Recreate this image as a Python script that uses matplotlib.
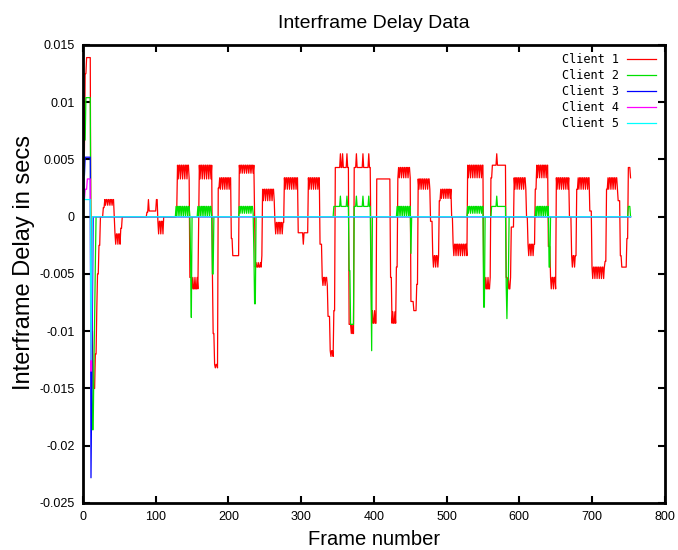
import numpy as np
import matplotlib
matplotlib.use("Agg")
import matplotlib.pyplot as plt

N_FRAMES = 754

# Step segments: (start_frame, level in ms, alternate level in ms or None)
client1_segs = [
    (0, 3.4, None), (2, 5.8, None), (3, 12.5, None), (5, 13.9, None),
    (11, -5.0, None), (12, -10.0, None), (14, -15.0, None), (17, -12.0, None),
    (19, -8.0, None), (20, -5.0, None), (22, -2.5, None), (24, 0.0, None),
    (28, 0.8, None), (30, 1.5, 1.0), (43, 0.0, None), (44, -1.5, -2.4),
    (52, -1.0, None), (54, 0.0, None), (88, 0.4, None), (90, 1.5, None),
    (91, 0.5, None), (101, 1.5, None), (103, -0.4, -1.5), (111, 0.0, None),
    (129, 0.8, None), (130, 4.5, 3.3), (147, -5.3, None), (150, -6.3, -5.3),
    (159, -1.0, None), (160, 4.5, 3.3), (178, -5.0, None), (179, -10.2, None),
    (181, -12.9, -13.2), (186, 2.5, None), (188, 3.4, 2.4), (204, -1.9, None),
    (206, -3.4, None), (215, 4.5, 3.8), (236, 0.0, None), (237, -4.4, -4.0),
    (246, -3.4, None), (247, 2.4, 1.4), (264, -0.5, -1.5), (277, 3.4, 2.4),
    (296, -1.4, None), (303, -2.4, None), (304, -1.4, None), (310, 3.4, 2.4),
    (326, -2.4, None), (329, -5.3, -6.0), (337, -8.7, None), (340, -11.7, -12.2),
    (345, -8.2, None), (347, 4.3, None), (366, -9.4, None), (369, -10.2, -9.4),
    (373, 4.3, None), (396, -2.7, None), (397, -9.3, -8.2), (404, 3.3, None),
    (423, -5.3, None), (425, -9.3, -8.3), (431, -4.4, None), (433, 3.3, None),
    (434, 4.3, 3.4), (451, -7.4, None), (455, -8.2, None), (459, -5.9, None),
    (461, 3.3, 2.4), (478, -0.4, None), (481, -3.4, -4.4), (490, 1.4, None),
    (492, 2.4, 1.6), (507, 0.0, None), (509, -2.4, -3.4), (529, 4.5, 3.4),
    (551, -5.3, None), (553, -6.3, -5.3), (561, 3.4, None), (563, 4.5, None),
    (582, -5.3, None), (584, -6.3, -5.3), (589, -0.9, None), (593, 3.4, 2.4),
    (610, 0.0, None), (612, -2.4, -3.4), (622, 2.4, None), (624, 4.5, 3.4),
    (640, -2.6, None), (643, -5.3, -6.3), (651, 3.4, 2.4), (669, 0.0, None),
    (672, -3.4, -4.4), (679, 2.4, None), (681, 3.4, 2.4), (697, 0.5, None),
    (700, -4.4, -5.4), (718, -3.9, None), (720, 2.4, None), (722, 3.4, 2.4),
    (736, 1.4, None), (739, -3.4, None), (741, -4.4, None), (748, -1.9, None),
    (750, 4.3, None), (753, 3.4, None),
]
client1_spikes = [(354, 5.5), (357, 5.5), (363, 5.5), (376, 5.5),
                  (385, 5.5), (393, 5.5), (569, 5.5)]

client2_segs = [
    (0, 0.0, None), (1, 6.7, None), (4, 10.4, None), (11, -5.0, None),
    (12, -12.0, None), (13, -18.6, None), (15, -13.0, None), (16, -9.0, None),
    (17, -4.0, None), (18, 0.0, None), (128, 0.9, 0.0), (148, -3.9, None),
    (149, -8.8, None), (150, 0.0, None), (158, 0.9, 0.0), (178, -5.0, None),
    (180, 0.0, None), (215, 0.9, 0.3), (235, -3.0, None), (236, -7.6, None),
    (238, 0.0, None), (345, 0.9, None), (366, -4.7, None), (368, -9.4, None),
    (373, 0.9, None), (396, -5.9, None), (397, -11.7, None), (398, 0.0, None),
    (432, 0.9, 0.0), (451, -3.2, None), (452, 0.0, None), (529, 0.9, 0.3),
    (551, -7.9, None), (553, 0.0, None), (562, 0.9, None), (582, -6.0, None),
    (583, -8.9, None), (584, -5.5, None), (586, 0.0, None), (623, 0.9, 0.0),
    (641, -4.4, None), (643, 0.0, None), (750, 0.9, None), (753, 0.0, None),
]
client2_spikes = [(354, 1.8), (363, 1.8), (376, 1.8), (385, 1.8),
                  (393, 1.8), (569, 1.8)]

client3_segs = [
    (0, 3.0, None), (1, 3.6, None), (3, 5.2, None), (11, -22.8, None),
    (12, -15.0, None), (13, -8.0, None), (14, 0.0, None),
]
client4_segs = [
    (0, 1.5, None), (3, 2.4, None), (6, 3.3, None), (11, -13.5, None),
    (12, -9.5, None), (13, 0.0, None),
]
client5_segs = [
    (0, 6.5, None), (2, 1.5, None), (11, -12.5, None), (12, -6.0, None),
    (13, 0.0, None),
]

labels = ["Client 1", "Client 2", "Client 3", "Client 4", "Client 5"]
colors = ["#ff0000", "#00e000", "#0000ff", "#ff00ff", "#00ffff"]

x_ticks = [0, 100, 200, 300, 400, 500, 600, 700, 800]
y_ticks = [0.015, 0.01, 0.005, 0.0, -0.005, -0.01, -0.015, -0.02, -0.025]
y_tick_labels = ["0.015", "0.01", "0.005", "0", "-0.005", "-0.01",
                 "-0.015", "-0.02", "-0.025"]


def expand(segs, spikes=()):
    vals = np.zeros(N_FRAMES)
    for i, (start, level, alt) in enumerate(segs):
        end = segs[i + 1][0] if i + 1 < len(segs) else N_FRAMES
        seg = np.full(end - start, level)
        if alt is not None:
            seg[1::3] = alt
        vals[start:end] = seg
    for f, v in spikes:
        vals[f] = v
    return vals * 0.001


series = [
    expand(client1_segs, client1_spikes),
    expand(client2_segs, client2_spikes),
    expand(client3_segs),
    expand(client4_segs),
    expand(client5_segs),
]
frames = np.arange(N_FRAMES)

fig = plt.figure(figsize=(6.78, 5.5), dpi=100)
ax = fig.add_axes([0.1224, 0.0855, 0.858, 0.8327])

for vals, lab, col in zip(series, labels, colors):
    ax.plot(frames, vals, color=col, lw=0.9, label=lab)

ax.set_xlim(0, 800)
ax.set_ylim(-0.025, 0.015)
ax.set_xticks(x_ticks)
ax.set_xticklabels([str(t) for t in x_ticks], fontsize=9, family="Liberation Sans")
ax.set_yticks(y_ticks)
ax.set_yticklabels(y_tick_labels, fontsize=9, family="Liberation Sans")
ax.tick_params(direction="in", top=True, right=True, length=5, width=1.5, pad=6)
for sp in ax.spines.values():
    sp.set_linewidth(2)

ax.set_title("Interframe Delay Data", fontsize=14, family="Liberation Sans", pad=12)
ax.set_xlabel("Frame number", fontsize=14.5, family="Liberation Sans", labelpad=5)
ax.set_ylabel("Interframe Delay in secs", fontsize=17, family="Liberation Sans")
ax.yaxis.set_label_coords(-0.082, 0.526)

leg = ax.legend(loc="upper right", frameon=False, markerfirst=False,
                prop={"family": "DejaVu Sans Mono", "size": 8.5},
                handlelength=2.5, handletextpad=0.7, labelspacing=0.25,
                borderaxespad=0.4, borderpad=0.3)

fig.savefig("out.png", dpi=100)
